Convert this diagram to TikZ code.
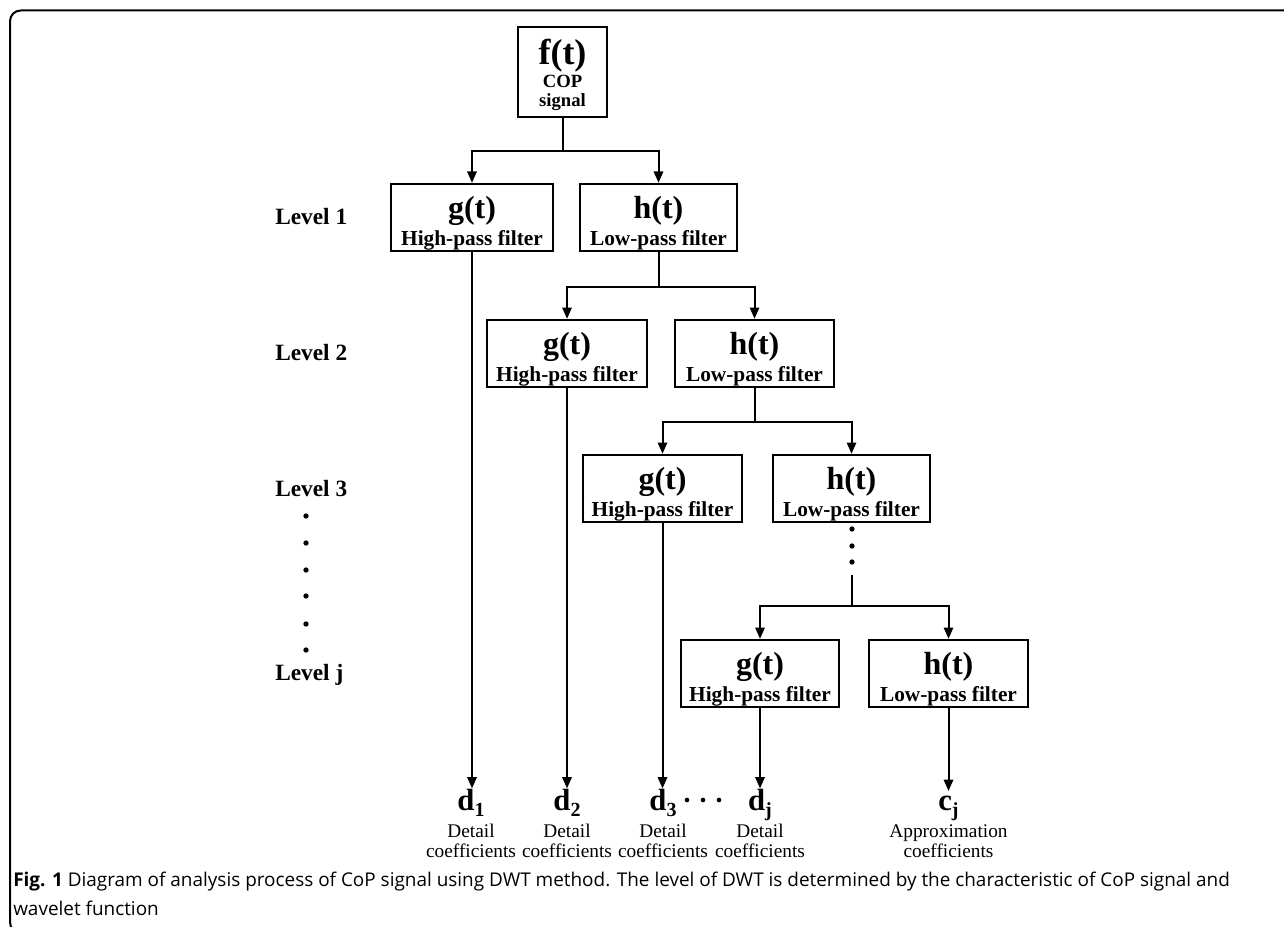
\documentclass[tikz,border=0pt]{standalone}
\usepackage{fontspec}
\setmainfont{Liberation Serif}
\newfontfamily\capfont{Open Sans}
\usetikzlibrary{arrows.meta}
\newcommand\mysub[1]{\raisebox{-5pt}{\fontsize{15}{15}\selectfont #1}}
\tikzset{
  fbox/.style={draw, line width=1.5pt, inner sep=0pt, minimum height=50.5pt},
  ttl/.style={inner sep=0pt, font=\bfseries\fontsize{24}{24}\selectfont},
  subt/.style={anchor=base, inner sep=0pt, font=\bfseries\fontsize{16}{16}\selectfont},
  conn/.style={line width=1.5pt},
  arr/.style={line width=1.5pt, -{Triangle[width=7pt,length=8.5pt]}},
  lvl/.style={anchor=west, inner sep=0pt, font=\bfseries\fontsize{17.5}{18}\selectfont},
  dlab/.style={anchor=base, inner sep=0pt, font=\bfseries\fontsize{23}{23}\selectfont},
  olab/.style={anchor=base, inner sep=0pt, font=\fontsize{14.5}{14.5}\selectfont},
  vdot/.style={circle, fill, inner sep=0pt, minimum size=4pt},
  capt/.style={anchor=west, inner sep=0pt, font=\capfont\fontsize{14.2}{16}\selectfont},
}
% name, x, y, width, title, subtitle
\newcommand\filterbox[6]{%
  \node[fbox, minimum width=#4] (#1) at (#2,#3) {};
  \node[ttl] (#1-t) at (#2,#3-7) {#5};
  \node[subt] (#1-s) at (#2,#3+28) {#6};
}
% name, x, main, line2, line3
\newcommand\outlabel[5]{%
  \node[dlab] (#1) at (#2,810) {#3};
  \node[olab] (#1-a) at (#2,837) {#4};
  \node[olab] (#1-b) at (#2,857) {#5};
}
\begin{document}
\begin{tikzpicture}[x=0.75pt,y=-0.75pt]
\useasboundingbox (0,0) rectangle (1284,927);
% frame
\draw[line width=1.5pt, rounded corners=8pt] (1300,10.5) -- (10,10.5) -- (10,933) -- (60,933);
% top box
\node[fbox, minimum width=67pt, minimum height=67.5pt] (f) at (562.5,72) {};
\node[inner sep=0pt, font=\bfseries\fontsize{27}{27}\selectfont] (f-t) at (562.5,56) {f(t)};
\node[anchor=base, inner sep=0pt, font=\bfseries\fontsize{14}{14}\selectfont] (f-a) at (562.5,88) {COP};
\node[anchor=base, inner sep=0pt, font=\bfseries\fontsize{14}{14}\selectfont] (f-b) at (562.5,107) {signal};
% filter boxes
\filterbox{g1}{472}{217.5}{121pt}{g(t)}{High-pass filter}
\filterbox{h1}{658.5}{217.5}{118pt}{h(t)}{Low-pass filter}
\filterbox{g2}{567}{353.5}{120pt}{g(t)}{High-pass filter}
\filterbox{h2}{754.5}{353.5}{119pt}{h(t)}{Low-pass filter}
\filterbox{g3}{662.5}{488.5}{119pt}{g(t)}{High-pass filter}
\filterbox{h3}{851.5}{488.5}{118pt}{h(t)}{Low-pass filter}
\filterbox{gj}{760}{673.5}{118.5pt}{g(t)}{High-pass filter}
\filterbox{hj}{948.5}{673.5}{119pt}{h(t)}{Low-pass filter}
% branch points
\coordinate (b0) at (562.5,151);
\coordinate (b1) at (658.5,287);
\coordinate (b2) at (754.5,422);
\coordinate (b3t) at (852,575);
\coordinate (b3) at (852,606);
\draw[conn] (f) -- (b0);
\draw[arr] (b0) -| (g1);
\draw[arr] (b0) -| (h1);
\draw[conn] (h1) -- (b1);
\draw[arr] (b1) -| (g2);
\draw[arr] (b1) -| (h2);
\draw[conn] (h2) -- (b2);
\draw[arr] (b2) -| (g3);
\draw[arr] (b2) -| (h3);
\node[vdot] (hd1) at (852,529) {};
\node[vdot] (hd2) at (852,546) {};
\node[vdot] (hd3) at (852,562) {};
\draw[conn] (b3t) -- (b3);
\draw[arr] (b3) -| (gj);
\draw[arr] (b3) -| (hj);
% level labels
\node[lvl] (L1) at (275,217) {Level 1};
\node[lvl] (L2) at (275,353) {Level 2};
\node[lvl] (L3) at (275,489) {Level 3};
\node[lvl] (Lj) at (275,675) {Level j};
\foreach \i/\yy in {1/516,2/543,3/570,4/596,5/624,6/650}
  \node[vdot] (ld\i) at (306,\yy) {};
% outputs
\outlabel{d1}{471}{d\mysub{1}}{Detail}{coefficients}
\outlabel{d2}{567}{d\mysub{2}}{Detail}{coefficients}
\outlabel{d3}{663}{d\mysub{3}}{Detail}{coefficients}
\outlabel{dj}{760}{d\mysub{j}}{Detail}{coefficients}
\outlabel{cj}{948.5}{c\mysub{j}}{Approximation}{coefficients}
\node[vdot, minimum size=3.5pt] (m1) at (687,800) {};
\node[vdot, minimum size=3.5pt] (m2) at (703,800) {};
\node[vdot, minimum size=3.5pt] (m3) at (719,800) {};
\draw[arr] (g1) -- (d1.north -| g1);
\draw[arr] (g2) -- (d2.north -| g2);
\draw[arr] (g3) -- (d3.north -| g3);
\draw[arr] (gj) -- (dj.north -| gj);
\draw[arr] (hj) -- (hj |- 0,791);
% caption
\node[capt] (cap1) at (13,882) {\textbf{Fig. 1} Diagram of analysis process of CoP signal using DWT method. The level of DWT is determined by the characteristic of CoP signal and};
\node[capt] (cap2) at (13,908) {wavelet function};
\end{tikzpicture}
\end{document}
